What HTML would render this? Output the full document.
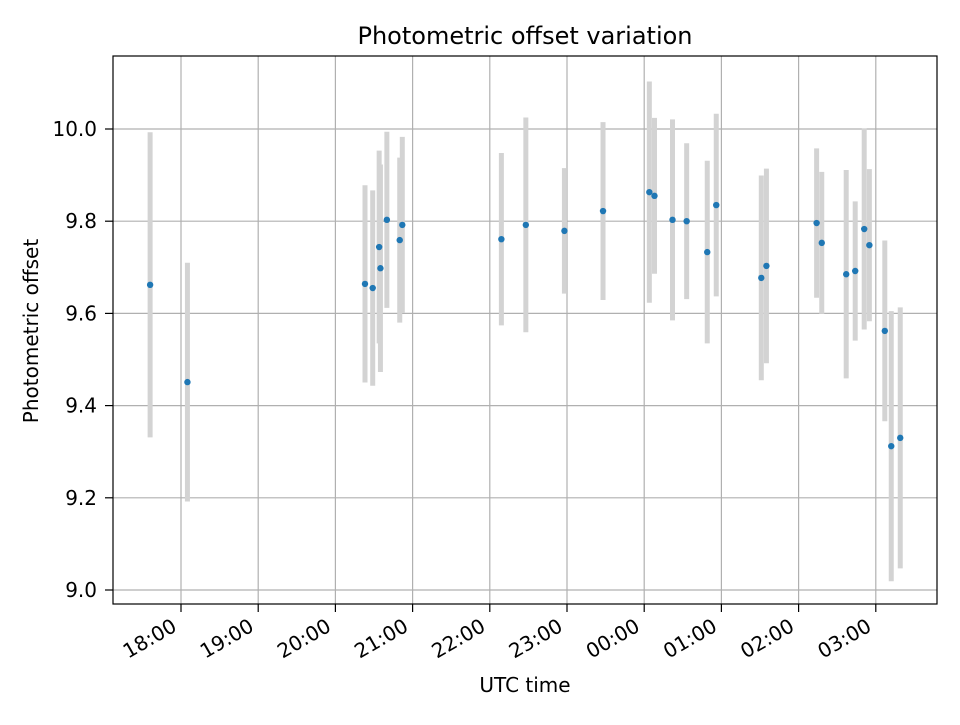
<!DOCTYPE html>
<html><head><meta charset="utf-8"><style>
body{margin:0;background:#fff}
text{font-family:"DejaVu Sans","Liberation Sans",sans-serif;fill:#000}
</style></head><body>
<svg id="chart" width="960" height="720" xmlns="http://www.w3.org/2000/svg">
<rect width="960" height="720" fill="#fff"/>
<g id="grid"></g>
<g id="bars"></g>
<g id="dots"></g>
<rect x="113" y="56" width="824" height="548" fill="none" stroke="#000" stroke-width="1.2"/>
<g id="axes"></g>
<text x="525" y="44" font-size="24" text-anchor="middle">Photometric offset variation</text>
<text x="525" y="692" font-size="20" text-anchor="middle">UTC time</text>
<text x="0" y="0" font-size="20" text-anchor="middle" transform="translate(38,331) rotate(-90)">Photometric offset</text>
</svg>
<script>
// minutes relative to 18:00 UTC
const times = ["17:36","18:05","20:23","20:29","20:34","20:35","20:40","20:50","20:52","22:09","22:28","22:58","23:28","00:04","00:08","00:22","00:33","00:49","00:56","01:31","01:35","02:14","02:18","02:37","02:44","02:51","02:55","03:07","03:12","03:19"];
const offsets = [9.662,9.451,9.664,9.655,9.744,9.698,9.803,9.759,9.792,9.761,9.792,9.779,9.822,9.863,9.855,9.803,9.800,9.733,9.835,9.677,9.703,9.796,9.753,9.685,9.692,9.783,9.748,9.562,9.312,9.330];
const errors = [0.331,0.259,0.214,0.212,0.209,0.225,0.191,0.179,0.191,0.187,0.233,0.136,0.193,0.240,0.169,0.218,0.169,0.198,0.198,0.222,0.211,0.162,0.154,0.226,0.151,0.218,0.165,0.196,0.293,0.283];
const yTicks = [9.0,9.2,9.4,9.6,9.8,10.0];
const xTickLabels = ["18:00","19:00","20:00","21:00","22:00","23:00","00:00","01:00","02:00","03:00"];

const NS="http://www.w3.org/2000/svg";
function toMin(t){let [h,m]=t.split(":").map(Number);let v=(h-18)*60+m;if(h<12)v+=24*60;return v;}
function xs(min){return 181+min*77.2/60;}
function ys(v){return 590-(v-9.0)*461;}
function mk(tag,attrs,parent){const e=document.createElementNS(NS,tag);for(const k in attrs)e.setAttribute(k,attrs[k]);parent.appendChild(e);return e;}
const grid=document.getElementById('grid'),bars=document.getElementById('bars'),dots=document.getElementById('dots'),axes=document.getElementById('axes');
yTicks.forEach(v=>{
  const y=ys(v);
  const g=mk('line',{x1:113,x2:937,y1:y,y2:y,stroke:'#b0b0b0','stroke-width':1.2},grid);
  
  
  const t=mk('line',{x1:105,x2:113,y1:y,y2:y,stroke:'#000','stroke-width':1.2},axes);
  
  
  const l=mk('text',{x:97,y:y+7,'font-size':20,'text-anchor':'end'},axes);
  l.textContent=v.toFixed(1);
  
  
});
xTickLabels.forEach(s=>{
  const x=xs(toMin(s));
  const g=mk('line',{x1:x,x2:x,y1:56,y2:604,stroke:'#b0b0b0','stroke-width':1.2},grid);
  
  
  const t=mk('line',{x1:x,x2:x,y1:604,y2:612,stroke:'#000','stroke-width':1.2},axes);
  
  
  const l=mk('text',{x:0,y:0,'font-size':20,'text-anchor':'end',transform:`translate(${x-3},${630}) rotate(-30)`},axes);
  l.textContent=s;
  
  
});
times.forEach((t,i)=>{
  const x=xs(toMin(t));
  const b=mk('line',{x1:x,x2:x,y1:ys(offsets[i]+errors[i]),y2:ys(offsets[i]-errors[i]),stroke:'#d3d3d3','stroke-width':5},bars);
  
  
  const c=mk('circle',{cx:x,cy:ys(offsets[i]),r:3.2,fill:'#1f77b4'},dots);
  
  
});
</script>
</body></html>
